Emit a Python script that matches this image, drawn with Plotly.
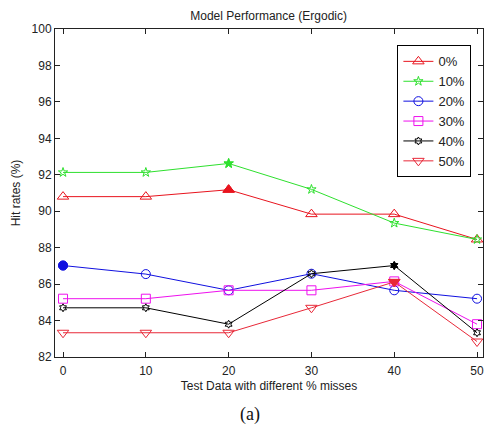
import plotly.graph_objects as go

x_vals = [0, 10, 20, 30, 40, 50]
series_names = ["0%", "10%", "20%", "30%", "40%", "50%"]
s0 = [90.8, 90.8, 91.18, 89.84, 89.84, 88.45]
s10 = [92.13, 92.13, 92.62, 91.2, 89.35, 88.45]
s20 = [87.02, 86.55, 85.66, 86.57, 85.66, 85.2]
s30 = [85.2, 85.2, 85.66, 85.66, 86.15, 83.8]
s40 = [84.7, 84.7, 83.8, 86.57, 87.02, 83.33]
s50 = [83.33, 83.33, 83.33, 84.7, 86.12, 82.85]
filled_idx = [[2], [2], [0], [], [4], [4]]

colors = ["#e8141e", "#2ee02e", "#1010e0", "#ee10ee", "#000000", "#e82838"]
symbols = ["triangle-up", "star", "circle", "square", "hexagram", "triangle-down"]
sizes = [10, 7, 9, 9, 6, 10]

all_series = [s0, s10, s20, s30, s40, s50]

fig = go.Figure()
for name, ys, c, sym, sz in zip(series_names, all_series, colors, symbols, sizes):
    fig.add_trace(go.Scatter(
        x=x_vals, y=ys, name=name, mode="lines+markers",
        line=dict(color=c, width=1),
        marker=dict(symbol=sym + "-open", size=sz, color=c, line=dict(color=c, width=1)),
    ))
for ys, c, sym, sz, idx in zip(all_series, colors, symbols, sizes, filled_idx):
    if idx:
        fig.add_trace(go.Scatter(
            x=[x_vals[i] for i in idx], y=[ys[i] for i in idx], mode="markers",
            showlegend=False,
            marker=dict(symbol=sym, size=sz, color=c, line=dict(color=c, width=1)),
        ))

axis_common = dict(
    showline=True, linecolor="#222222", linewidth=1, mirror="ticks",
    ticks="inside", ticklen=5, tickcolor="#222222", showgrid=False, zeroline=False,
    ticklabeloverflow="allow",
    tickfont=dict(family="Liberation Sans, Arial", size=12, color="#222222"),
)

fig.update_layout(
    width=484, height=426,
    margin=dict(l=55, r=1, t=29, b=69),
    paper_bgcolor="white", plot_bgcolor="white",
    title=dict(text="Model Performance (Ergodic)", x=0.555, xanchor="center", y=0.963, yanchor="middle",
               font=dict(family="Liberation Sans, Arial", size=12, color="#222222")),
    xaxis=dict(range=[-0.97, 50.72], tickvals=[0, 10, 20, 30, 40, 50], ticklabelstandoff=3,
               title=dict(text="Test Data with different % misses", standoff=4,
                          font=dict(family="Liberation Sans, Arial", size=12, color="#222222")),
               **axis_common),
    yaxis=dict(range=[82, 100], tickvals=list(range(82, 101, 2)),
               title=dict(text="Hit rates (%)", standoff=8,
                          font=dict(family="Liberation Sans, Arial", size=12, color="#222222")),
               **axis_common),
    legend=dict(x=0.8, xanchor="left", y=0.95, yanchor="top",
                bordercolor="#000000", borderwidth=1, bgcolor="white",
                font=dict(family="Liberation Sans, Arial", size=13, color="#222222"),
                tracegroupgap=0, itemwidth=30, entrywidth=38),
    showlegend=True,
    annotations=[dict(text="(a)", xref="paper", yref="paper", x=0.455, y=-0.175,
                      xanchor="center", yanchor="middle", showarrow=False,
                      font=dict(family="Liberation Serif, DejaVu Serif", size=18, color="#111111"))],
)

fig.write_html("out.html")
